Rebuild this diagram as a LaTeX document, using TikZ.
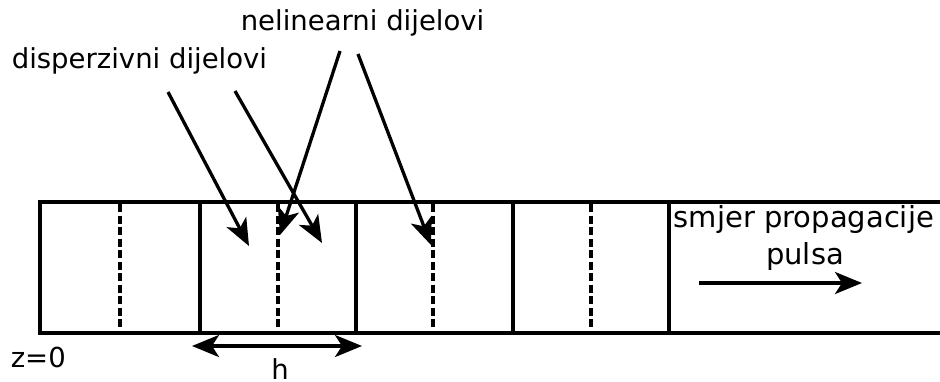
\documentclass[tikz,border=0pt]{standalone}
\usepackage{fontspec}
\setmainfont{DejaVu Sans}
\usetikzlibrary{arrows.meta}
\begin{document}
\begin{tikzpicture}[x=1pt,y=-1pt,
  line width=3.6pt,
  lbl/.style={inner sep=0pt,font=\fontsize{27.5}{32}\selectfont},
  biglbl/.style={inner sep=0pt,font=\fontsize{29}{34}\selectfont},
  tip/.tip={Stealth[length=27pt,width=22pt,inset=7pt]},
  bigarrow/.style={line width=3.3pt,-tip},
  dashline/.style={dash pattern=on 8pt off 3.5pt}]
\useasboundingbox (0,0) rectangle (940,381);
% tube
\coordinate (tl) at (40,202);
\coordinate (bl) at (40,333);
\coordinate (tr) at (941,202);
\coordinate (br) at (941,333);
\draw (tr) -- (tl) -- (bl) -- (br);
\foreach \x/\n in {200/a,356/b,513/c,669/d}{
  \coordinate (s\n t) at (\x,202);
  \coordinate (s\n b) at (\x,333);
  \draw (s\n t) -- (s\n b);
}
\foreach \x/\n in {120/a,278/b,433/c,591/d}{
  \coordinate (d\n t) at (\x,204);
  \coordinate (d\n b) at (\x,329);
  \draw[dashline] (d\n t) -- (d\n b);
}
% labels
\node[lbl,anchor=west] (nel) at (239,23) {nelinearni dijelovi};
\node[lbl,anchor=west] (disp) at (10,61) {disperzivni dijelovi};
\node[biglbl,anchor=west] (smjer) at (672,219) {smjer propagacije};
\node[biglbl] (pulsa) at (805,256) {pulsa};
\node[lbl,anchor=west] (z) at (9,357) {z=0};
\node[lbl,anchor=north] (h) at (280,357) {h};
% arrows from labels
\coordinate (a1s) at (168,92);  \coordinate (a1e) at (249,246);
\coordinate (a2s) at (235,91);  \coordinate (a2e) at (322,243);
\coordinate (a3s) at (340,51);  \coordinate (a3e) at (280,235);
\coordinate (a4s) at (358,54);  \coordinate (a4e) at (431,245);
\draw[bigarrow] (a1s) -- (a1e);
\draw[bigarrow] (a2s) -- (a2e);
\draw[bigarrow] (a3s) -- (a3e);
\draw[bigarrow] (a4s) -- (a4e);
% h arrow
\coordinate (hl) at (192,346);
\coordinate (hr) at (362,346);
\draw[line width=3.3pt,tip-tip] (hl) -- (hr);
% propagation arrow
\coordinate (pl) at (699,283);
\coordinate (pr) at (862,283);
\draw[bigarrow] (pl) -- (pr);
\end{tikzpicture}
\end{document}
